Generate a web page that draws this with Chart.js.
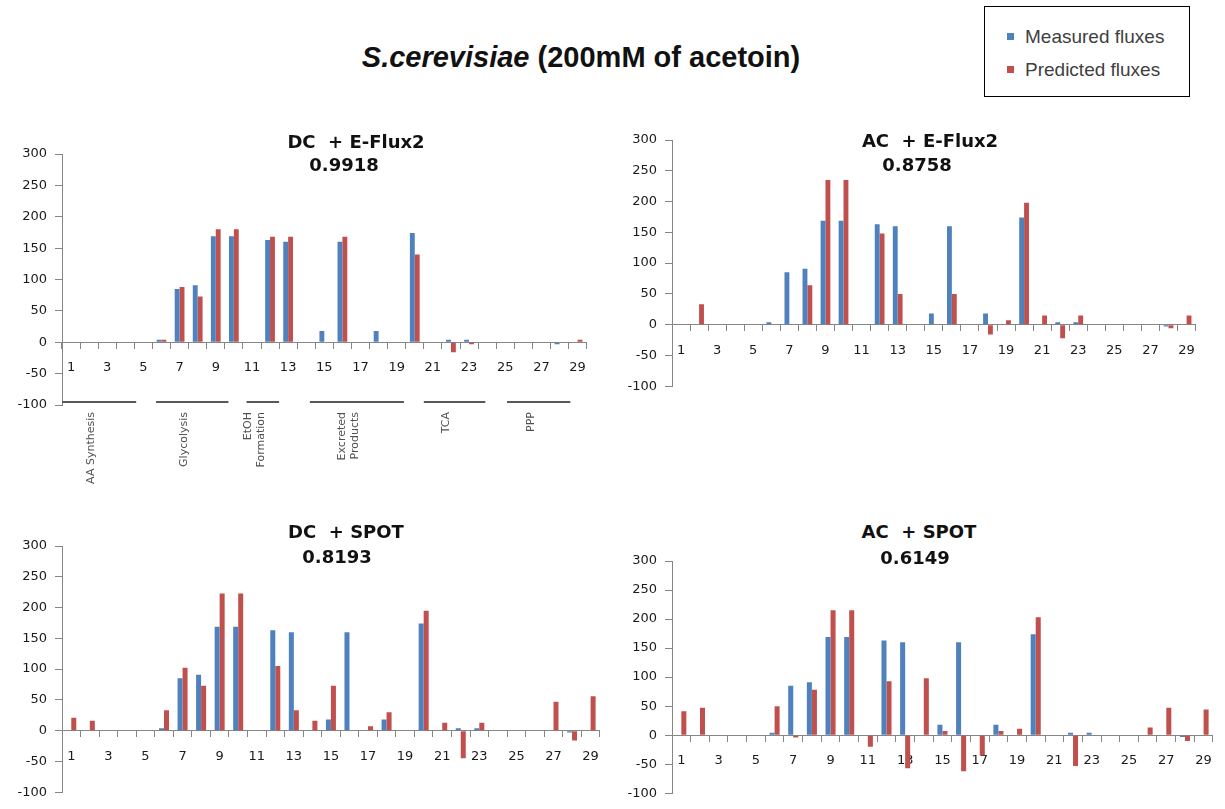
<!DOCTYPE html>
<html>
<head>
<meta charset="utf-8">
<script src="https://cdn.jsdelivr.net/npm/chart.js@4.4.0/dist/chart.umd.min.js"></script>
<style>
  body { margin: 0; background: #fff; width: 1225px; height: 809px; position: relative; overflow: hidden;
         font-family: "Liberation Sans", Arial, sans-serif; }
  .box { position: absolute; }
  .t { position: absolute; font-weight: bold; color: #111; white-space: pre;
       transform: translate(-50%, -50%); z-index: 2; font-size: 18px; font-family: "DejaVu Sans", sans-serif; }
  #main { font-size: 29px; font-family: "Liberation Sans", Arial, sans-serif; }
  #legend { position: absolute; left: 984px; top: 6px; width: 204px; height: 89px;
            border: 1.5px solid #000; z-index: 2; }
  .li { position: absolute; left: 22px; font-size: 19px; color: #404040; line-height: 22px; }
  .li span { display: inline-block; width: 7px; height: 7px; margin-right: 11px; vertical-align: 3px; }
</style>
</head>
<body>
<div class="t" id="main" style="left:581px;top:57px"><i>S.cerevisiae</i> (200mM of acetoin)</div>
<div id="legend">
  <div class="li" style="top:19px"><span style="background:#4F81BD"></span>Measured fluxes</div>
  <div class="li" style="top:52px"><span style="background:#C0504D"></span>Predicted fluxes</div>
</div>

<script>
// flux index 1..29
const categories = ["1","2","3","4","5","6","7","8","9","10","11","12","13","14","15",
  "16","17","18","19","20","21","22","23","24","25","26","27","28","29"];

const measured = [0,0,0,0,0,4,85,91,169,169,0,163,160,0,18,160,0,18,0,174,0,4,4,0,0,0,0,-3,0];

const predDCEflux = [0,0,0,0,0,4,88,73,180,180,0,168,168,0,0,168,0,0,0,140,0,-16,-3,0,0,0,0,0,4];
const predACEflux = [0,33,0,0,0,0,0,64,235,235,0,148,50,0,0,50,0,-16,7,198,15,-22,15,0,0,0,0,-6,15];
const predDCSpot  = [21,16,0,0,0,33,102,73,223,223,0,105,33,16,73,0,7,30,0,195,13,-45,13,0,0,0,47,-16,56];
const predACSpot  = [41,47,0,0,0,50,-4,78,215,215,-20,93,-57,98,7,-62,-35,7,11,203,0,-53,0,0,0,13,47,-10,44];

const yTicks = [-100, -50, 0, 50, 100, 150, 200, 250, 300];

// pathway groups under the first panel (category units, 0 = left edge)
const groupNames = [["AA Synthesis"], ["Glycolysis"], ["EtOH", "Formation"], ["Excreted", "Products"], ["TCA"], ["PPP"]];
const groupStart = [0, 5.2, 10.2, 13.7, 20.0, 24.6];
const groupEnd   = [4.1, 9.2, 12.0, 18.9, 23.4, 28.1];

const BLUE = "#4F81BD", RED = "#C0504D", AXIS = "#868686";
const TICK_FONT = { size: 13, family: "'DejaVu Sans', sans-serif" };

const groupPlugin = {
  id: "groups",
  afterDraw(chart) {
    if (!chart.options.plugins.groups.show) return;
    const ctx = chart.ctx, xs = chart.scales.x, ys = chart.scales.y;
    const yLine = ys.bottom - 3;
    ctx.save();
    groupNames.forEach((name, i) => {
      const x1 = xs.getPixelForValue(groupStart[i] - 0.5);
      const x2 = xs.getPixelForValue(groupEnd[i] - 0.5);
      ctx.strokeStyle = "#595959";
      ctx.lineWidth = 2;
      ctx.beginPath();
      ctx.moveTo(x1, yLine);
      ctx.lineTo(x2, yLine);
      ctx.stroke();
      const cx = (x1 + x2) / 2 - 8;
      ctx.translate(cx, yLine + 10);
      ctx.rotate(-Math.PI / 2);
      ctx.fillStyle = "#505050";
      ctx.font = "11px 'DejaVu Sans', sans-serif";
      ctx.textAlign = "right";
      ctx.textBaseline = "middle";
      const lh = 13;
      name.forEach((ln, k) => {
        ctx.fillText(ln, 0, (k - (name.length - 1) / 2) * lh);
      });
      ctx.setTransform(1, 0, 0, 1, 0, 0);
    });
    ctx.restore();
  }
};

const panels = [
  { pred: predDCEflux, title: "DC  + E-Flux2", score: "0.9918", left: 62, right: 590, top: 154, bottom: 405,
    tx: 356, ty: 141, sx: 344, sy: 164, groups: true },
  { pred: predACEflux, title: "AC  + E-Flux2", score: "0.8758", left: 672, right: 1199, top: 140, bottom: 391,
    tx: 930, ty: 140, sx: 917, sy: 164, groups: false },
  { pred: predDCSpot, title: "DC  + SPOT", score: "0.8193", left: 62, right: 603, top: 546, bottom: 797,
    tx: 346, ty: 531, sx: 337, sy: 556, groups: false },
  { pred: predACSpot, title: "AC  + SPOT", score: "0.6149", left: 672, right: 1216, top: 561, bottom: 798,
    tx: 919, ty: 531, sx: 915, sy: 557, groups: false }
];

panels.forEach((p) => {
  const padL = 60, padT = 16, padR = 8, padB = p.groups ? 100 : 11;
  const w = p.right - p.left + padL + padR;
  const h = p.bottom - p.top + padT + padB;
  const div = document.createElement("div");
  div.className = "box";
  div.style.left = (p.left - padL) + "px";
  div.style.top = (p.top - padT) + "px";
  div.style.width = w + "px";
  div.style.height = h + "px";
  const cv = document.createElement("canvas");
  cv.width = w; cv.height = h;
  div.appendChild(cv);
  document.body.appendChild(div);

  const t1 = document.createElement("div");
  t1.className = "t"; t1.textContent = p.title;
  t1.style.left = p.tx + "px"; t1.style.top = p.ty + "px";
  document.body.appendChild(t1);
  const t2 = document.createElement("div");
  t2.className = "t"; t2.textContent = p.score;
  t2.style.left = p.sx + "px"; t2.style.top = p.sy + "px";
  document.body.appendChild(t2);

  new Chart(cv, {
    type: "bar",
    data: {
      labels: categories,
      datasets: [
        { label: "Measured fluxes", data: measured, backgroundColor: BLUE,
          categoryPercentage: 0.54, barPercentage: 1 },
        { label: "Predicted fluxes", data: p.pred, backgroundColor: RED,
          categoryPercentage: 0.54, barPercentage: 1 }
      ]
    },
    options: {
      responsive: false,
      animation: false,
      devicePixelRatio: 1,
      layout: { padding: { left: padL - 50, top: padT, right: padR, bottom: padB } },
      plugins: {
        legend: { display: false },
        tooltip: { enabled: false },
        groups: { show: p.groups }
      },
      scales: {
        x: {
          position: { y: 0 },
          grid: { offset: true, drawOnChartArea: false, drawTicks: true, tickLength: 6, color: AXIS },
          border: { display: true, color: AXIS, width: 1 },
          ticks: {
            autoSkip: false, maxRotation: 0, padding: 12, color: "#1a1a1a", font: TICK_FONT,
            callback: (v, i) => (i % 2 === 0 ? categories[i] : "")
          }
        },
        y: {
          min: -100, max: 300,
          afterBuildTicks: (s) => { s.ticks = yTicks.map(v => ({ value: v })); },
          afterFit: (s) => { s.width = 50; },
          grid: { drawOnChartArea: false, drawTicks: true, tickLength: 7, color: AXIS },
          border: { display: true, color: AXIS, width: 1 },
          ticks: { padding: 8, color: "#1a1a1a", font: TICK_FONT }
        }
      }
    },
    plugins: [groupPlugin]
  });
});
</script>
</body>
</html>
